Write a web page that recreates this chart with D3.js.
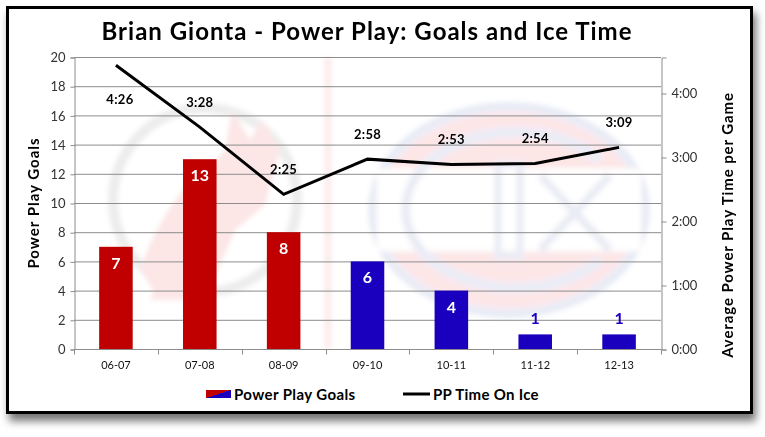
<!DOCTYPE html>
<html>
<head>
<meta charset="utf-8">
<script src="https://cdn.jsdelivr.net/npm/d3@7"></script>
<style>
  body { margin: 0; background: #fff; }
  svg text { font-family: Lato, "Open Sans", sans-serif; }
  .axis path, .axis line { stroke: #8c8c8c; }
  .axis text { font-size: 13px; fill: #333; }
  .x-axis text { font-size: 11px; fill: #111; }
</style>
</head>
<body>
<div id="chart"></div>
<script>
// Chart data
var seasons = ["06-07", "07-08", "08-09", "09-10", "10-11", "11-12", "12-13"];
var ppGoals = [7, 13, 8, 6, 4, 1, 1];
var ppTimeOnIce = ["4:26", "3:28", "2:25", "2:58", "2:53", "2:54", "3:09"];
var teams = ["NJD", "NJD", "NJD", "MTL", "MTL", "MTL", "MTL"];
var goalTicks = [0, 2, 4, 6, 8, 10, 12, 14, 16, 18, 20];
var timeTicks = ["0:00", "1:00", "2:00", "3:00", "4:00"];

var teamColor = { NJD: "#c00000", MTL: "#1a00be" };

function toSeconds(s) {
	var p = s.split(":");
	return (+p[0]) * 60 + (+p[1]);
}

var W = 765, H = 437;
var plot = { left: 74, right: 661, top: 57, bottom: 349 };

var svg = d3.select("#chart").append("svg")
	.attr("width", W)
	.attr("height", H);

var defs = svg.append("defs");
var shadow = defs.append("filter").attr("id", "shadow")
	.attr("x", "-5%").attr("y", "-5%").attr("width", "115%").attr("height", "125%");
shadow.append("feDropShadow")
	.attr("dx", 3).attr("dy", 7)
	.attr("stdDeviation", 4)
	.attr("flood-color", "#000")
	.attr("flood-opacity", 0.55);

defs.append("filter").attr("id", "blur")
	.append("feGaussianBlur").attr("stdDeviation", 2.5);

var legendGrad = defs.append("linearGradient").attr("id", "swatch")
	.attr("x1", "0%").attr("y1", "0%").attr("x2", "100%").attr("y2", "100%");
legendGrad.append("stop").attr("offset", "50%").attr("stop-color", teamColor.NJD);
legendGrad.append("stop").attr("offset", "50%").attr("stop-color", teamColor.MTL);

// Frame
svg.append("rect")
	.attr("x", 7.5).attr("y", 7.5)
	.attr("width", 744).attr("height", 405)
	.attr("fill", "#fff")
	.attr("stroke", "#000")
	.attr("stroke-width", 3)
	.attr("filter", "url(#shadow)");

// Faint background logos
var bg = svg.append("g").attr("opacity", 0.1).attr("filter", "url(#blur)");

bg.append("rect")
	.attr("x", 324).attr("y", plot.top)
	.attr("width", 8).attr("height", plot.bottom - plot.top)
	.attr("fill", "#e00000")
	.attr("opacity", 0.7);

// devils
bg.append("circle")
	.attr("cx", 205).attr("cy", 200).attr("r", 92)
	.attr("fill", "none").attr("stroke", "#444").attr("stroke-width", 10);
bg.append("path")
	.attr("d", "M150,300 L200,180 L225,150 L232,110 L250,140 L262,120 L280,150 L265,205 L235,230 L205,300 Z")
	.attr("fill", "#e00000");
bg.append("path")
	.attr("d", "M140,270 Q160,210 205,165 L190,215 Q165,250 160,300 Z")
	.attr("fill", "#e00000");

// canadiens
bg.append("ellipse")
	.attr("cx", 509).attr("cy", 210).attr("rx", 136).attr("ry", 103)
	.attr("fill", "#e00000").attr("stroke", "#2040a0").attr("stroke-width", 10);
bg.append("rect")
	.attr("x", 378).attr("y", 170).attr("width", 262).attr("height", 80)
	.attr("fill", "#fff");
bg.append("path")
	.attr("d", "M600,160 A110,78 0 1 0 600,260")
	.attr("fill", "none").attr("stroke", "#2040a0").attr("stroke-width", 11);
bg.append("rect")
	.attr("x", 498).attr("y", 165).attr("width", 22).attr("height", 90)
	.attr("fill", "none").attr("stroke", "#2040a0").attr("stroke-width", 9);
bg.append("path")
	.attr("d", "M540,175 L610,250 M540,250 L610,175")
	.attr("fill", "none").attr("stroke", "#2040a0").attr("stroke-width", 10);

// Scales
var x = d3.scaleBand()
	.domain(seasons)
	.range([plot.left, plot.right])
	.paddingInner(0.6)
	.paddingOuter(0.3);

var yGoals = d3.scaleLinear()
	.domain([0, 20])
	.range([plot.bottom, plot.top]);

var yTime = d3.scaleLinear()
	.domain([0, 273.75])
	.range([plot.bottom, plot.top]);

// Gridlines
svg.append("g")
	.selectAll("line")
	.data(goalTicks.slice(1))
	.enter().append("line")
	.attr("x1", plot.left).attr("x2", plot.right)
	.attr("y1", function(d) { return yGoals(d) + 0.5; })
	.attr("y2", function(d) { return yGoals(d) + 0.5; })
	.attr("stroke", "#8c8c8c");

// Axes
var yAxisLeft = d3.axisLeft(yGoals)
	.tickValues(goalTicks)
	.tickSize(4)
	.tickPadding(5);

svg.append("g")
	.attr("class", "axis y-axis")
	.attr("transform", "translate(" + (plot.left + 0.5) + ",0.5)")
	.call(yAxisLeft);

var yAxisRight = d3.axisRight(yTime)
	.tickValues(timeTicks.map(toSeconds))
	.tickFormat(function(d, i) { return timeTicks[i]; })
	.tickSize(5)
	.tickPadding(5);

svg.append("g")
	.attr("class", "axis y2-axis")
	.attr("transform", "translate(" + (plot.right + 0.5) + ",0.5)")
	.call(yAxisRight);

var xAxis = d3.axisBottom(x)
	.tickSize(0)
	.tickPadding(12);

var xg = svg.append("g")
	.attr("class", "axis x-axis")
	.attr("transform", "translate(0," + (plot.bottom + 0.5) + ")")
	.call(xAxis);
xg.select(".domain").attr("d", "M" + plot.left + ",0H" + plot.right);

// category boundary ticks
var step = x.step();
var bounds = seasons.map(function(s) { return x(s) - x.paddingInner() * step / 2; });
bounds.push(plot.right);
xg.selectAll(".bound")
	.data(bounds)
	.enter().append("line")
	.attr("class", "bound")
	.attr("x1", function(d) { return Math.round(d) + 0.5; })
	.attr("x2", function(d) { return Math.round(d) + 0.5; })
	.attr("y1", 0).attr("y2", 5);

// Bars
svg.append("g")
	.selectAll("rect")
	.data(ppGoals)
	.enter().append("rect")
	.attr("x", function(d, i) { return x(seasons[i]); })
	.attr("y", function(d) { return yGoals(d); })
	.attr("width", x.bandwidth())
	.attr("height", function(d) { return yGoals(0) - yGoals(d); })
	.attr("fill", function(d, i) { return teamColor[teams[i]]; });

// Bar labels
svg.append("g")
	.selectAll("text")
	.data(ppGoals)
	.enter().append("text")
	.attr("x", function(d, i) { return x(seasons[i]) + x.bandwidth() / 2; })
	.attr("y", function(d) { return d > 2 ? yGoals(d) + 22 : yGoals(d) - 10; })
	.attr("text-anchor", "middle")
	.attr("font-size", "16px")
	.attr("font-weight", "bold")
	.attr("fill", function(d, i) { return d > 2 ? "#fff" : teamColor[teams[i]]; })
	.text(function(d) { return d; });

// Time on ice line
var toiSeconds = ppTimeOnIce.map(toSeconds);

var line = d3.line()
	.x(function(d, i) { return x(seasons[i]) + x.bandwidth() / 2; })
	.y(function(d) { return yTime(d); });

svg.append("path")
	.datum(toiSeconds)
	.attr("d", line)
	.attr("fill", "none")
	.attr("stroke", "#000")
	.attr("stroke-width", 3);

svg.append("g")
	.selectAll("text")
	.data(toiSeconds)
	.enter().append("text")
	.attr("x", function(d, i) { return x(seasons[i]) + x.bandwidth() / 2 + (i == 0 ? 4 : 0); })
	.attr("y", function(d, i) { return i == 0 ? yTime(d) + 39 : yTime(d) - 20; })
	.attr("text-anchor", "middle")
	.attr("font-size", "13px")
	.attr("font-weight", "bold")
	.attr("letter-spacing", "0.3px")
	.attr("fill", "#000")
	.text(function(d, i) { return ppTimeOnIce[i]; });

// Titles
svg.append("text")
	.attr("x", 367)
	.attr("y", 40)
	.attr("text-anchor", "middle")
	.attr("font-size", "24px")
	.attr("font-weight", "bold")
	.attr("letter-spacing", "1px")
	.text("Brian Gionta - Power Play: Goals and Ice Time");

svg.append("text")
	.attr("transform", "translate(39," + ((plot.top + plot.bottom) / 2) + ") rotate(-90)")
	.attr("text-anchor", "middle")
	.attr("font-size", "15px")
	.attr("font-weight", "bold")
	.attr("letter-spacing", "1px")
	.text("Power Play Goals");

svg.append("text")
	.attr("transform", "translate(733,225) rotate(-90)")
	.attr("text-anchor", "middle")
	.attr("font-size", "15px")
	.attr("font-weight", "bold")
	.attr("letter-spacing", "0.9px")
	.text("Average Power Play Time per Game");

// Legend
var legend = svg.append("g").attr("transform", "translate(0,394)");
legend.append("rect")
	.attr("x", 206).attr("y", -4)
	.attr("width", 25).attr("height", 8)
	.attr("fill", "url(#swatch)");
legend.append("text")
	.attr("x", 234).attr("y", 5.5)
	.attr("font-size", "15px")
	.attr("font-weight", "bold")
	.attr("letter-spacing", "0.4px")
	.text("Power Play Goals");
legend.append("line")
	.attr("x1", 403).attr("x2", 430)
	.attr("y1", 0).attr("y2", 0)
	.attr("stroke", "#000").attr("stroke-width", 3);
legend.append("text")
	.attr("x", 433).attr("y", 5.5)
	.attr("font-size", "15px")
	.attr("font-weight", "bold")
	.attr("letter-spacing", "0.3px")
	.text("PP Time On Ice");
</script>
</body>
</html>
